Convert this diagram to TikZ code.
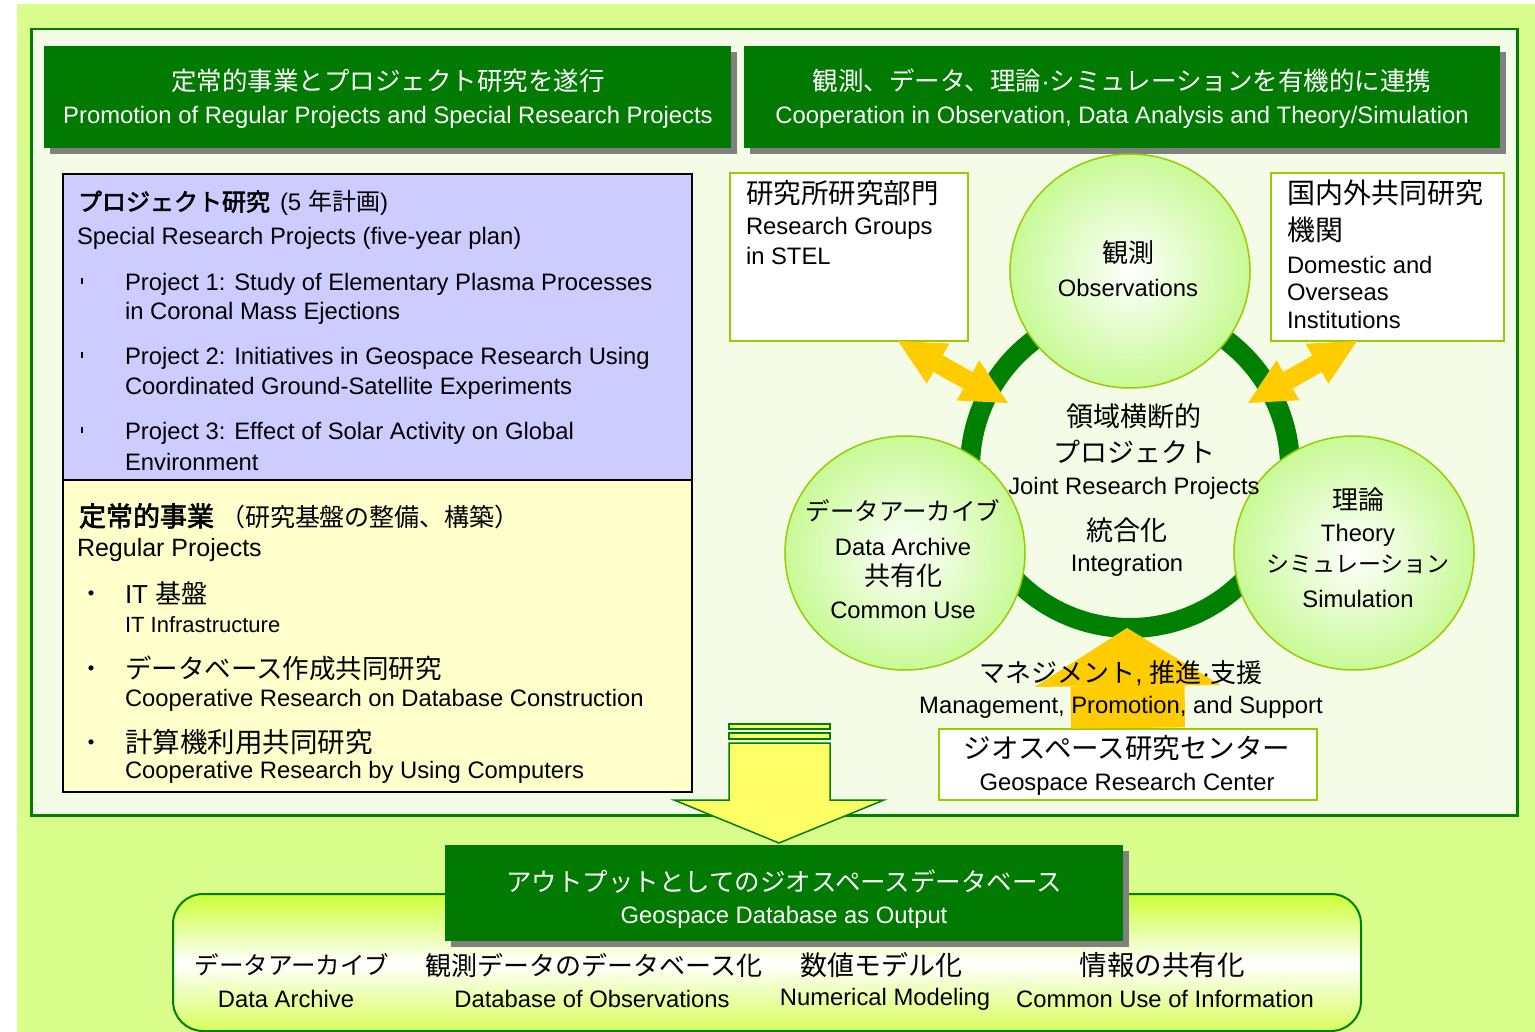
\documentclass[tikz,border=0pt]{standalone}
\usepackage{fontspec}
\setmainfont{Liberation Sans}
\newfontfamily\jp{Noto Sans CJK JP}[AutoFakeBold=2.5]
\usetikzlibrary{shapes.geometric,arrows.meta}
\newcommand{\myfs}[1]{\fontsize{#1}{#1}\selectfont}
\definecolor{bglime}{RGB}{218,254,140}
\definecolor{framefill}{RGB}{244,252,232}
\definecolor{dkgreen}{RGB}{0,128,0}
\definecolor{hdgreen}{RGB}{0,122,0}
\definecolor{shgray}{RGB}{128,128,128}
\definecolor{lav}{RGB}{204,204,255}
\definecolor{cream}{RGB}{255,255,204}
\definecolor{ygborder}{RGB}{153,204,0}
\definecolor{circfill}{RGB}{200,250,150}
\definecolor{amber}{RGB}{255,204,0}
\definecolor{lemon}{RGB}{255,255,102}
\definecolor{limetop}{RGB}{204,255,51}
\definecolor{limebot}{RGB}{214,255,90}
\begin{document}
\begin{tikzpicture}[x=1pt,y=-1pt,
  txt/.style={inner sep=0pt,outer sep=0pt},
  en/.style={txt,font=\myfs{23.8},yshift=-2pt},
  jpt/.style={txt,font={\jp\myfs{#1}}},
  hdr/.style={fill=hdgreen,draw=none,inner sep=0pt,anchor=north west},
  plainbox/.style={inner sep=0pt,anchor=north west},
  bubble/.style={ellipse,draw=ygborder,line width=1.5pt,inner color=white,outer color=circfill,inner sep=0pt,minimum width=240,minimum height=234},
  dblarrow/.style={draw=amber,line width=19pt,arrows={Triangle[length=46pt,width=46pt,line width=0pt]-Triangle[length=46pt,width=46pt,line width=0pt]}},
  tick/.style={fill=black,inner sep=0pt,minimum width=2,minimum height=6},
  bulletdot/.style={txt,font={\jp\myfs{24}},yshift=-4pt},
  darrow/.style={draw=dkgreen,fill=lemon,line width=1.5pt,line join=miter}
]
\useasboundingbox (0,0) rectangle (1535,1032);
\fill[white] (0,0) rectangle (1535,1032);
\fill[bglime] (17,4) rectangle (1535,1032);
% main frame
\node[plainbox,draw=dkgreen,line width=2.5pt,fill=framefill,minimum width=1486,minimum height=786] (frame) at (30,28) {};
% headers
\fill[shgray] (50,52) rectangle (737,154);
\node[hdr,minimum width=687,minimum height=102] (hL) at (44,46) {};
\fill[shgray] (750,52) rectangle (1506,154);
\node[hdr,minimum width=756,minimum height=102] (hR) at (744,46) {};
\node[jpt=25.5,white] (hLj) at (388,81) {定常的事業とプロジェクト研究を遂行};
\node[en,white] (hLe) at (388,115) {Promotion of Regular Projects and Special Research Projects};
\node[txt,white,font=\myfs{25.5}] (hRj) at (1122,81) {{\jp 観測、データ、理論}·{\jp シミュレーションを有機的に連携}};
\node[en,white] (hRe) at (1122,115) {Cooperation in Observation, Data Analysis and Theory/Simulation};
% left boxes
\node[plainbox,draw=black,line width=2pt,fill=lav,minimum width=629,minimum height=306] (spbox) at (62,173) {};
\node[plainbox,draw=black,line width=2pt,fill=cream,minimum width=629,minimum height=312] (rgbox) at (62,479) {};
\node[txt,anchor=west,font=\myfs{24}] (spT) at (78,203) {{\jp\bfseries プロジェクト研究}\hspace{10pt}(5 {\jp 年計画})};
\node[en,anchor=west] (spE) at (77,236) {Special Research Projects (five-year plan)};
\node[tick] (tk1) at (82,281) {};
\node[en,anchor=west] (p1a) at (125,282) {Project 1: Study of Elementary Plasma Processes};
\node[en,anchor=west] (p1b) at (125,311) {in Coronal Mass Ejections};
\node[tick] (tk2) at (82,355) {};
\node[en,anchor=west] (p2a) at (125,356) {Project 2: Initiatives in Geospace Research Using};
\node[en,anchor=west] (p2b) at (125,386) {Coordinated Ground-Satellite Experiments};
\node[tick] (tk3) at (82,430) {};
\node[en,anchor=west] (p3a) at (125,431) {Project 3: Effect of Solar Activity on Global};
\node[en,anchor=west] (p3b) at (125,460) {Environment};
\node[txt,anchor=west] (rgT) at (79,516) {{\jp\bfseries\myfs{27}定常的事業}\hspace{6pt}{\jp\myfs{25}（研究基盤の整備、構築）}};
\node[txt,anchor=west,font=\myfs{25},yshift=-2pt] (rgE) at (77,548) {Regular Projects};
\node[bulletdot] (bu1) at (91,593) {・};
\node[txt,anchor=west,font=\myfs{26}] (it1) at (125,593) {IT {\jp 基盤}};
\node[txt,anchor=west,font=\myfs{22},yshift=-1pt] (it2) at (125,624) {IT Infrastructure};
\node[bulletdot] (bu2) at (91,668) {・};
\node[jpt=26.5,anchor=west] (db1) at (125,668) {データベース作成共同研究};
\node[en,anchor=west] (db2) at (125,698) {Cooperative Research on Database Construction};
\node[bulletdot] (bu3) at (91,742) {・};
\node[jpt=27.5,anchor=west] (cp1) at (125,742) {計算機利用共同研究};
\node[en,anchor=west] (cp2) at (125,770) {Cooperative Research by Using Computers};
% ring
\coordinate (ringc) at (1130,468);
\draw[dkgreen,line width=20pt] (ringc) circle[radius=160];
% side boxes
\node[plainbox,draw=ygborder,line width=2pt,fill=white,minimum width=238,minimum height=168] (stel) at (729,172) {};
\node[plainbox,draw=ygborder,line width=2pt,fill=white,minimum width=233,minimum height=168] (dom) at (1270,172) {};
\node[jpt=27.5,anchor=west] (stel1) at (746,193) {研究所研究部門};
\node[en,anchor=west] (stel2) at (746,226) {Research Groups};
\node[en,anchor=west] (stel3) at (746,254) {in STEL};
\node[jpt=28,anchor=west] (dom1) at (1287,193) {国内外共同研究};
\node[jpt=28,anchor=west] (dom2) at (1287,230) {機関};
\node[en,anchor=west] (dom3) at (1287,263) {Domestic and};
\node[en,anchor=west] (dom4) at (1287,290) {Overseas};
\node[en,anchor=west] (dom5) at (1287,318) {Institutions};
% circles
\node[bubble] (obs) at (1130,271) {};
\node[bubble] (arch) at (905,553) {};
\node[bubble] (theo) at (1354,553) {};
% double arrows
\coordinate (aL1) at (898,341);
\coordinate (aL2) at (1008,403);
\coordinate (aR1) at (1357,341);
\coordinate (aR2) at (1248,403);
\draw[dblarrow] (aL1) -- (aL2);
\draw[dblarrow] (aR1) -- (aR2);
% circle texts
\node[jpt=26] (obs1) at (1128,253) {観測};
\node[en] (obs2) at (1128,286) {Observations};
\node[jpt=27] (cen1) at (1134,416) {領域横断的};
\node[jpt=27] (cen2) at (1134,452) {プロジェクト};
\node[en] (cen3) at (1134,486) {Joint Research Projects};
\node[jpt=27] (cen4) at (1127,530) {統合化};
\node[en] (cen5) at (1127,563) {Integration};
\node[jpt=24.5] (ar1) at (903,511) {データアーカイブ};
\node[en] (ar2) at (903,545) {Data Archive};
\node[jpt=26] (ar3) at (903,576) {共有化};
\node[en] (ar4) at (903,608) {Common Use};
\node[jpt=26] (th1) at (1358,500) {理論};
\node[en] (th2) at (1358,533) {Theory};
\node[jpt=23] (th3) at (1358,564) {シミュレーション};
\node[en] (th4) at (1358,597) {Simulation};
% geospace research center + up arrow
\node[plainbox,draw=ygborder,line width=2pt,fill=white,minimum width=378,minimum height=71] (grc) at (938,728) {};
\coordinate (ringbot) at (1127,628);
\draw[amber,line width=114pt,-{Triangle[length=58pt,width=186pt,line width=0pt]}] (grc.north) -- (ringbot);
\node[txt,font=\myfs{26}] (mg1) at (1121,673) {{\jp マネジメント}, {\jp 推進}·{\jp 支援}};
\node[en] (mg2) at (1121,705) {Management, Promotion, and Support};
\node[jpt=27.5] (grc1) at (1127,748) {ジオスペース研究センター};
\node[en] (grc2) at (1127,782) {Geospace Research Center};
% down arrow
\draw[darrow] (729,724) rectangle (830,729);
\draw[darrow] (729,733) rectangle (830,739);
\draw[darrow] (729,743) -- (729,800) -- (674,800) -- (779,843) -- (884,800) -- (830,800) -- (830,743) -- cycle;
% output box
\node[plainbox,rounded corners=30pt,draw=dkgreen,line width=2pt,top color=limetop,bottom color=limebot,middle color=white,minimum width=1188,minimum height=137] (outbox) at (172,893) {};
\fill[shgray] (451,851) rectangle (1129,947);
\node[hdr,minimum width=678,minimum height=96] (outhdr) at (445,845) {};
\node[jpt=25.5,white] (oh1) at (784,882) {アウトプットとしてのジオスペースデータベース};
\node[en,white] (oh2) at (784,915) {Geospace Database as Output};
\node[jpt=24.5] (o1j) at (292,965) {データアーカイブ};
\node[en] (o1e) at (286,997) {Data Archive};
\node[jpt=26] (o2j) at (594,965) {観測データのデータベース化};
\node[en] (o2e) at (592,997) {Database of Observations};
\node[jpt=27] (o3j) at (881,965) {数値モデル化};
\node[en] (o3e) at (885,997) {Numerical Modeling};
\node[jpt=27.5] (o4j) at (1162,965) {情報の共有化};
\node[en] (o4e) at (1165,997) {Common Use of Information};
\end{tikzpicture}
\end{document}
